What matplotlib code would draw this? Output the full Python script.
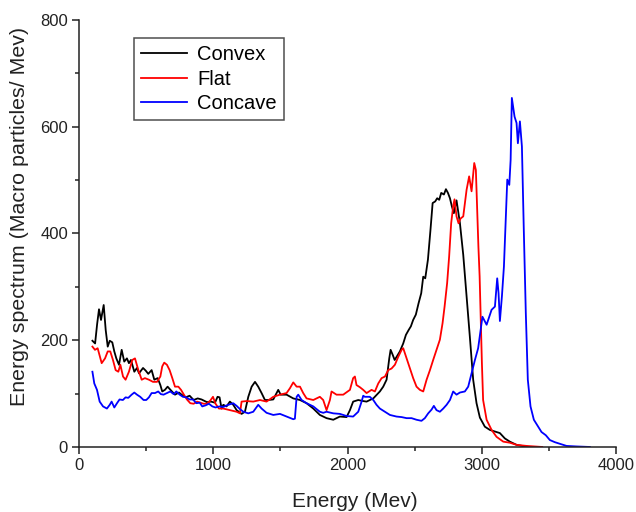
import matplotlib
matplotlib.use("Agg")
import matplotlib.pyplot as plt
from matplotlib.ticker import MultipleLocator

plt.rcParams["font.family"] = ["Liberation Sans", "DejaVu Sans"]

# Energy spectra for the three target profiles
convex_e = [100, 120, 135, 149, 164, 184, 199, 214, 229, 248, 263, 278, 298, 318, 337, 357, 372, 387, 412, 432,
            447, 477, 497, 516, 541, 561, 586, 606, 620, 640, 660, 685, 715, 745, 764, 794, 824, 854, 884, 913,
            953, 983, 1013, 1032, 1047, 1062, 1075, 1099, 1124, 1149, 1174, 1211, 1236, 1261, 1286, 1311, 1335,
            1360, 1385, 1410, 1447, 1472, 1484, 1502, 1546, 1596, 1646, 1695, 1745, 1794, 1844, 1894, 1943, 1993,
            2018, 2042, 2080, 2117, 2142, 2192, 2241, 2266, 2291, 2311, 2321, 2336, 2351, 2366, 2390, 2415, 2435,
            2455, 2472, 2489, 2509, 2529, 2549, 2564, 2579, 2599, 2618, 2634, 2653, 2668, 2683, 2698, 2718, 2733,
            2748, 2763, 2777, 2792, 2812, 2837, 2862, 2887, 2911, 2936, 2961, 2986, 3010, 3023, 3060, 3098, 3135,
            3172, 3209, 3259, 3300, 3350]
convex_s = [199, 194, 230, 258, 238, 266, 219, 188, 199, 196, 179, 166, 154, 182, 160, 166, 157, 163, 141, 148,
            138, 148, 143, 137, 144, 126, 129, 116, 104, 107, 113, 106, 98, 102, 98, 93, 96, 88, 91, 89,
            84, 85, 83, 94, 93, 72, 79, 76, 85, 79, 69, 62, 66, 94, 113, 122, 113,
            101, 88, 88, 89, 101, 107, 98, 98, 91, 88, 82, 72, 60, 54, 51, 57, 56,
            69, 85, 88, 86, 85, 91, 104, 113, 126, 166, 182, 173, 163, 169, 179, 194, 210,
            219, 226, 238, 248, 269, 288, 319, 316, 351, 407, 457, 460, 466, 463, 476, 473, 483,
            476, 466, 451, 438, 462, 420, 360, 282, 207, 126, 82, 55, 44, 38, 32, 29, 26,
            16, 10, 4, 2, 0]

flat_e = [100, 119, 139, 169, 194, 214, 233, 253, 273, 293, 308, 328, 347, 372, 397, 417, 442, 467, 491, 521,
          551, 581, 606, 620, 635, 655, 675, 695, 715, 740, 760, 779, 804, 829, 854, 879, 904, 928, 953, 978,
          998, 1017, 1042, 1075, 1124, 1174, 1199, 1211, 1248, 1298, 1348, 1397, 1447, 1497, 1546, 1571, 1596,
          1621, 1646, 1670, 1695, 1745, 1794, 1819, 1844, 1869, 1881, 1918, 1968, 2018, 2042, 2055, 2067, 2092,
          2117, 2142, 2179, 2204, 2229, 2254, 2279, 2303, 2328, 2353, 2378, 2403, 2415, 2440, 2465, 2489, 2514,
          2539, 2564, 2589, 2614, 2638, 2663, 2688, 2708, 2723, 2742, 2757, 2772, 2787, 2797, 2812, 2827, 2842,
          2862, 2887, 2906, 2924, 2944, 2956, 2966, 2975, 2984, 2991, 3001, 3010, 3036, 3073, 3110, 3160, 3209,
          3259, 3333, 3450]
flat_s = [188, 182, 185, 157, 166, 179, 179, 163, 144, 141, 154, 132, 126, 141, 163, 166, 144, 126, 129, 126,
          122, 122, 132, 151, 158, 154, 144, 129, 113, 113, 107, 99, 89, 82, 81, 85, 83, 81, 81, 87,
          94, 81, 72, 72, 69, 66, 63, 85, 86, 85, 88, 85, 94, 98, 101, 110, 121,
          113, 113, 101, 91, 88, 94, 88, 69, 88, 104, 98, 98, 107, 129, 132, 116, 112,
          107, 101, 107, 104, 119, 129, 132, 144, 147, 154, 169, 182, 185, 166, 147, 129, 113,
          107, 104, 126, 144, 163, 182, 201, 232, 263, 307, 357, 419, 451, 464, 432, 419, 428,
          432, 482, 507, 479, 532, 519, 440, 375, 320, 251, 157, 88, 51, 32, 19, 10, 8,
          4, 2, 0]

concave_e = [100, 114, 134, 154, 179, 208, 229, 243, 263, 283, 302, 327, 347, 367, 392, 412, 432, 456, 481, 501,
             521, 541, 566, 590, 610, 630, 655, 680, 705, 725, 750, 774, 799, 824, 849, 874, 899, 918, 943, 968,
             993, 1017, 1047, 1075, 1112, 1149, 1174, 1199, 1224, 1261, 1298, 1335, 1360, 1397, 1447, 1497, 1546,
             1596, 1608, 1621, 1633, 1658, 1695, 1745, 1794, 1819, 1844, 1894, 1943, 1993, 2042, 2080, 2105, 2117,
             2129, 2166, 2192, 2216, 2241, 2278, 2316, 2365, 2403, 2440, 2477, 2514, 2551, 2576, 2601, 2626, 2643,
             2663, 2688, 2713, 2738, 2763, 2787, 2812, 2837, 2874, 2899, 2924, 2949, 2973, 2991, 3005, 3036, 3073,
             3098, 3115, 3125, 3135, 3150, 3165, 3180, 3190, 3205, 3215, 3224, 3244, 3259, 3269, 3284, 3299, 3313,
             3328, 3343, 3363, 3388, 3413, 3445, 3477, 3507, 3544, 3569, 3631, 3705, 3805]
concave_s = [141, 119, 107, 85, 76, 72, 79, 85, 74, 82, 89, 88, 93, 92, 98, 102, 98, 94, 88, 88,
             93, 101, 101, 104, 99, 98, 101, 104, 99, 104, 98, 94, 93, 89, 89, 82, 83, 76, 78, 81,
             76, 74, 76, 75, 79, 82, 77, 71, 66, 63, 66, 79, 72, 64, 60, 62, 57,
             52, 53, 94, 98, 88, 82, 76, 66, 64, 66, 63, 62, 58, 57, 66, 85, 96,
             94, 94, 88, 79, 72, 66, 60, 57, 56, 54, 54, 51, 49, 54, 63, 70, 77,
             69, 66, 72, 79, 88, 104, 98, 102, 104, 113, 138, 163, 185, 219, 244, 229, 257,
             263, 316, 288, 236, 282, 338, 438, 501, 491, 538, 654, 619, 607, 569, 610, 563, 407,
             251, 126, 76, 51, 41, 28, 22, 13, 9, 7, 2, 1, 0]

series_names = ["Convex", "Flat", "Concave"]
series_colors = ["black", "red", "blue"]

fig = plt.figure(figsize=(6.36, 5.12), dpi=100)
ax = fig.add_axes([0.1242, 0.127, 0.8444, 0.834])

for (e, s), name, color in zip([(convex_e, convex_s), (flat_e, flat_s), (concave_e, concave_s)],
                               series_names, series_colors):
    ax.plot(e, s, color=color, lw=1.3, label=name)

ax.set_xlim(0, 4000)
ax.set_ylim(0, 800)
ax.xaxis.set_major_locator(MultipleLocator(1000))
ax.xaxis.set_minor_locator(MultipleLocator(500))
ax.yaxis.set_major_locator(MultipleLocator(200))
ax.yaxis.set_minor_locator(MultipleLocator(100))

for side in ("top", "right"):
    ax.spines[side].set_visible(False)
for side in ("left", "bottom"):
    ax.spines[side].set_linewidth(1.1)
    ax.spines[side].set_color("#222222")

ax.tick_params(which="major", direction="out", length=5, width=1.1, color="#222222",
               labelsize=12, labelcolor="#222222", pad=3)
ax.tick_params(which="minor", direction="out", length=3, width=1.1, color="#222222")

# Axis titles placed in figure coordinates
fig.text(354.5 / 636, 5 / 512, "Energy (Mev)", fontsize=15, color="#222222",
         ha="center", va="baseline")
fig.text(20 / 636, (512 - 216) / 512, "Energy spectrum (Macro particles/ Mev)", fontsize=15.4,
         color="#222222", ha="center", va="center", rotation=90)

leg = ax.legend(loc="upper left", bbox_to_anchor=(0.102, 0.958), borderaxespad=0,
                fontsize=14.5, frameon=True, fancybox=False, handlelength=2.3,
                labelspacing=0.28, borderpad=0.35, handletextpad=0.5)
leg.get_frame().set_edgecolor("#222222")
leg.get_frame().set_linewidth(1.1)

fig.savefig("out.png", dpi=100)
